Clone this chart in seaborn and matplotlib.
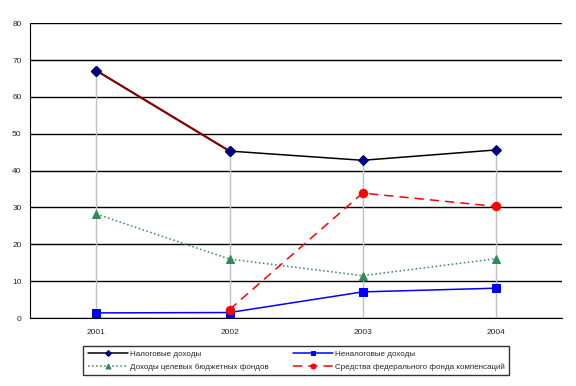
import pandas as pd
import matplotlib.pyplot as plt
import seaborn as sns

# data
years = ["2001", "2002", "2003", "2004"]
tax_income = [67.1, 45.3, 42.8, 45.6]
nontax_income = [1.4, 1.5, 7.1, 8.1]
fund_income = [28.2, 16.0, 11.5, 16.1]
compensation_fund = [None, 2.3, 33.9, 30.3]

names = ["Налоговые доходы", "Неналоговые доходы",
         "Доходы целевых бюджетных фондов",
         "Средства федерального фонда компенсаций"]

df = pd.DataFrame({
    "x": list(range(len(years))) * 4,
    "value": tax_income + nontax_income + fund_income + compensation_fund,
    "series": [n for n in names for _ in years],
})

sns.set_style("white")
plt.rcParams["font.family"] = ["Liberation Sans", "DejaVu Sans"]

fig = plt.figure(figsize=(5.76, 3.86), dpi=100)
ax = fig.add_axes([0.052, 0.176, 0.924, 0.764])

# drop lines from highest point to axis
for i in range(len(years)):
    top = max(v for v in (tax_income[i], nontax_income[i], fund_income[i],
                          compensation_fund[i]) if v is not None)
    ax.plot([i, i], [0, top], color="#c0c0c0", lw=1, zorder=1)

styles = {
    names[0]: dict(color="black", ls="-", marker="D", mfc="#000080", mec="#000080", ms=5),
    names[1]: dict(color="blue", ls="-", marker="s", mfc="blue", mec="blue", ms=6),
    names[2]: dict(color="#2e8b57", ls=":", marker="^", mfc="#2e8b57", mec="#2e8b57", ms=6),
    names[3]: dict(color="red", ls=(0, (6, 4)), marker="o", mfc="red", mec="red", ms=6),
}

for name in names:
    sub = df[df["series"] == name].dropna()
    st = styles[name]
    sns.lineplot(data=sub, x="x", y="value", ax=ax, color=st["color"],
                 linestyle=st["ls"], lw=1.1, marker=st["marker"],
                 markerfacecolor=st["mfc"], markeredgecolor=st["mec"],
                 markersize=st["ms"], label=name, zorder=3)

# first segment of the tax line appears dark red in the original
ax.plot([0, 1], tax_income[:2], color="#8b0000", lw=1.5, zorder=4)
ax.plot([0, 1], tax_income[:2], ls="none", marker="D", ms=5,
        mfc="#000080", mec="#000080", zorder=5)

ax.set_xlim(-0.5, len(years) - 0.5)
ax.set_ylim(0, 80)
ax.set_yticks(range(0, 81, 10))
ax.set_xticks(range(len(years)))
ax.set_xticklabels(years)
ax.set_xticks([i - 0.5 for i in range(len(years) + 1)], minor=True)
ax.tick_params(axis="x", which="major", length=0, labelsize=6, pad=8)
ax.tick_params(axis="x", which="minor", length=4, width=0.8, direction="out")
ax.tick_params(axis="y", length=4, width=0.8, direction="out", labelsize=6, pad=2)
ax.yaxis.grid(True, color="black", lw=1)
ax.set_xlabel("")
ax.set_ylabel("")
for s in ["top", "right"]:
    ax.spines[s].set_visible(False)
ax.spines["left"].set_color("black")
ax.spines["bottom"].set_color("black")
ax.spines["left"].set_linewidth(0.8)
ax.spines["bottom"].set_linewidth(0.8)

# legend filled row by row, as in the original
handles, labels = ax.get_legend_handles_labels()
order = [0, 2, 1, 3]
ax.legend([handles[i] for i in order], [labels[i] for i in order],
          loc="upper center", bbox_to_anchor=(0.5, -0.08), ncol=2,
          fontsize=5.8, frameon=True, fancybox=False, edgecolor="black",
          borderpad=0.6, columnspacing=3, handlelength=5, handletextpad=0.2,
          labelspacing=0.6, markerscale=0.6)

fig.savefig("out.png", dpi=100)
